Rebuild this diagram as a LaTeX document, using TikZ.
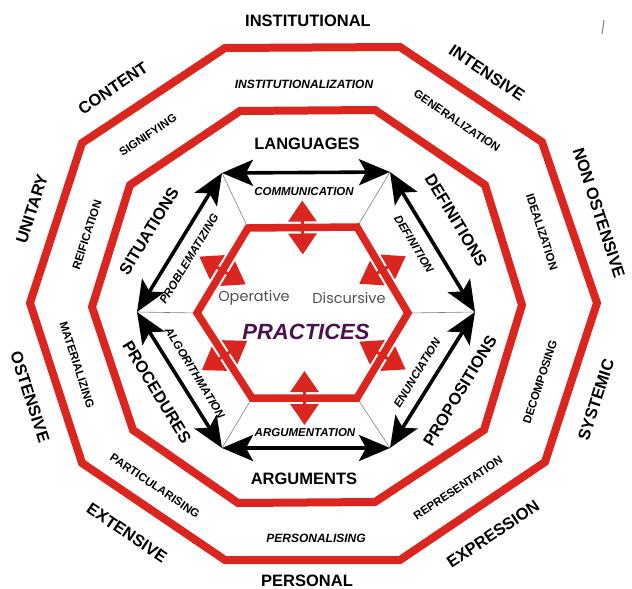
\documentclass[tikz,border=0pt]{standalone}
\usepackage{fontspec}
\setmainfont{Liberation Sans}
\newfontfamily\popfont{Poppins}
\usetikzlibrary{arrows.meta,calc}
\definecolor{ored}{RGB}{218,38,30}
\definecolor{prac}{RGB}{78,16,78}
\definecolor{opgray}{RGB}{80,80,80}
\begin{document}
\begin{tikzpicture}[x=1pt,y=-1pt,
  ring/.style={draw=ored,line width=8pt,line join=miter},
  hexring/.style={draw=ored,line width=7.5pt,line join=miter},
  spoke/.style={draw=gray,line width=0.6pt},
  dblarrow/.style={draw=black,line width=3.6pt,
     {Stealth[length=31pt,width=26pt,inset=7pt]}-{Stealth[length=31pt,width=26pt,inset=7pt]}},
  redarrow/.style={draw=ored,line width=3pt,
     {Triangle[length=21pt,width=28pt]}-{Triangle[length=21pt,width=28pt]}},
  outerlab/.style={inner sep=0pt,font=\fontsize{16.5}{17}\selectfont\bfseries},
  ringlab/.style={inner sep=0pt,font=\fontsize{11.5}{12}\selectfont\bfseries},
  ringlabit/.style={inner sep=0pt,font=\fontsize{12}{12}\selectfont\bfseries\itshape},
  innerlab/.style={inner sep=0pt,font=\fontsize{16.5}{17}\selectfont\bfseries},
  arrlab/.style={inner sep=0pt,font=\fontsize{11.5}{12}\selectfont\bfseries\itshape},
  modelab/.style={inner sep=0pt,text=opgray,font=\fontsize{14.5}{15}\selectfont\popfont},
]
\useasboundingbox (0,0) rectangle (632,589);
\fill[white] (0,0) rectangle (632,589);

% outer decagon
\coordinate (O1) at (225,48);  \coordinate (O2) at (400,47);
\coordinate (O3) at (542,142); \coordinate (O4) at (597,303);
\coordinate (O5) at (545,462); \coordinate (O6) at (400,560);
\coordinate (O7) at (225,560); \coordinate (O8) at (82,463);
\coordinate (O9) at (30,303);  \coordinate (O10) at (82,143);
% middle decagon
\coordinate (M1) at (240,111); \coordinate (M2) at (375,110);
\coordinate (M3) at (485,185); \coordinate (M4) at (522,305);
\coordinate (M5) at (484,430); \coordinate (M6) at (375,502);
\coordinate (M7) at (238,503); \coordinate (M8) at (133,430);
\coordinate (M9) at (92,307);  \coordinate (M10) at (130,185);
% practices hexagon
\coordinate (H1) at (248,228); \coordinate (H2) at (357,227);
\coordinate (H3) at (408,313); \coordinate (H4) at (357,398);
\coordinate (H5) at (252,398); \coordinate (H6) at (197,313);
% arrow hexagon
\coordinate (A1) at (222,173); \coordinate (A2) at (390,172);
\coordinate (A3) at (475,312); \coordinate (A4) at (390,448);
\coordinate (A5) at (222,448); \coordinate (A6) at (137,312);

\draw[ring] (O1)--(O2)--(O3)--(O4)--(O5)--(O6)--(O7)--(O8)--(O9)--(O10)--cycle;
\draw[ring] (M1)--(M2)--(M3)--(M4)--(M5)--(M6)--(M7)--(M8)--(M9)--(M10)--cycle;

% spokes
\draw[spoke] (A1)--(H1); \draw[spoke] (A2)--(H2); \draw[spoke] (A3)--(H3);
\draw[spoke] (A4)--(H4); \draw[spoke] (A5)--(H5); \draw[spoke] (A6)--(H6);

% black double arrows
\draw[dblarrow] (A1)--(A2);
\draw[dblarrow] (A2)--(A3);
\draw[dblarrow] (A3)--(A4);
\draw[dblarrow] (A4)--(A5);
\draw[dblarrow] (A5)--(A6);
\draw[dblarrow] (A6)--(A1);

% practices hexagon
\draw[hexring] (H1)--(H2)--(H3)--(H4)--(H5)--(H6)--cycle;

% red double arrows across hexagon edges
\foreach \p/\q/\n in {H1/H2/a,H2/H3/b,H3/H4/c,H4/H5/d,H5/H6/e,H6/H1/f}{
  \coordinate (R\n) at ($(\p)!0.5!(\q)$);
  \draw[redarrow] ($(R\n)!27pt!90:(\q)$) -- ($(R\n)!27pt!-90:(\q)$);
}

% outer labels
\node[outerlab] (instl) at (308,21) {INSTITUTIONAL};
\node[outerlab,rotate=-34] (intens) at (487,73) {INTENSIVE};
\node[outerlab,rotate=-72] (nonost) at (599,213) {NON OSTENSIVE};
\node[outerlab,rotate=72] (syst) at (596,400) {SYSTEMIC};
\node[outerlab,rotate=34] (expr) at (493,534) {EXPRESSION};
\node[outerlab] (pers) at (307,581) {PERSONAL};
\node[outerlab,rotate=-34] (extens) at (127,533) {EXTENSIVE};
\node[outerlab,rotate=-72] (ost) at (30,397) {OSTENSIVE};
\node[outerlab,rotate=72] (unit) at (32,209) {UNITARY};
\node[outerlab,rotate=34] (cont) at (113,88) {CONTENT};

% ring labels
\node[ringlabit] (instz) at (304,84) {INSTITUTIONALIZATION};
\node[ringlab,rotate=-34] (gener) at (457,121) {GENERALIZATION};
\node[ringlab,rotate=-72] (ideal) at (542,232) {IDEALIZATION};
\node[ringlab,rotate=72] (decomp) at (540,382) {DECOMPOSING};
\node[ringlab,rotate=34] (repr) at (458,488) {REPRESENTATION};
\node[ringlabit] (persz) at (316,538) {PERSONALISING};
\node[ringlab,rotate=-34] (partic) at (155,486) {PARTICULARISING};
\node[ringlab,rotate=-72] (mater) at (77,365) {MATERIALIZING};
\node[ringlab,rotate=72] (reif) at (87,235) {REIFICATION};
\node[ringlab,rotate=34] (signif) at (148,135) {SIGNIFYING};

% inner ring labels
\node[innerlab] (lang) at (307,144) {LANGUAGES};
\node[innerlab] (args) at (304,479) {ARGUMENTS};
\node[innerlab,rotate=-58.7] (defs) at (456,220) {DEFINITIONS};
\node[innerlab,rotate=58.7] (props) at (460,391) {PROPOSITIONS};
\node[innerlab,rotate=-58.7] (procs) at (157,392) {PROCEDURES};
\node[innerlab,rotate=58.7] (sits) at (149,231) {SITUATIONS};

% arrow labels
\node[arrlab] (comm) at (304,192) {COMMUNICATION};
\node[arrlab] (argt) at (305,433) {ARGUMENTATION};
\node[arrlab,rotate=-58.7] (defn) at (414,244) {DEFINITION};
\node[arrlab,rotate=58.7] (enun) at (417,373) {ENUNCIATION};
\node[arrlab,rotate=-58.7] (algo) at (195,373) {ALGORITHMATION};
\node[arrlab,rotate=58.7] (probl) at (189,259) {PROBLEMATIZING};

% centre
\node[modelab] (oper) at (254,298) {Operative};
\node[modelab] (disc) at (349,298) {Discursive};
\node[inner sep=0pt,text=prac,font=\fontsize{22}{22}\selectfont\bfseries\itshape] (pract) at (306,332) {PRACTICES};

% stray mark
\coordinate (s1) at (604,20); \coordinate (s2) at (602,34);
\draw[gray,line width=1pt] (s1)--(s2);
\end{tikzpicture}
\end{document}
